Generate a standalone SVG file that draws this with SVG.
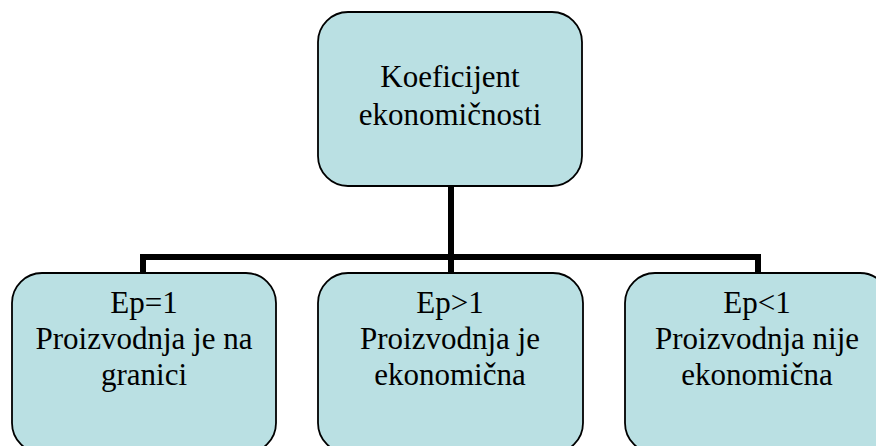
<svg xmlns="http://www.w3.org/2000/svg" width="876" height="446" viewBox="0 0 876 446">
<style>
.box{fill:#BAE0E3;stroke:#000;stroke-width:1.8}
.t{font-family:'Liberation Serif','Times New Roman',serif;font-size:31px;fill:#000;text-anchor:middle}
.c{stroke:#000;stroke-width:6;fill:none}
</style>
<rect width="876" height="446" fill="#fff"/>
<g id="connectors">
<line class="c" x1="451" y1="185" x2="451" y2="274"/>
<polyline class="c" points="143,274 143,257 758,257 758,274"/>
</g>
<g id="root">
<rect class="box" x="318" y="12" width="264" height="174" rx="30" ry="30"/>
<text class="t" x="450" y="87">Koeficijent</text>
<text class="t" x="450" y="125">ekonomičnosti</text>
</g>
<g id="n1">
<rect class="box" x="12" y="273" width="264" height="180" rx="30" ry="30"/>
<text class="t" x="144" y="313">Ep=1</text>
<text class="t" x="144" y="349">Proizvodnja je na</text>
<text class="t" x="144" y="385">granici</text>
</g>
<g id="n2">
<rect class="box" x="318" y="273" width="265" height="180" rx="30" ry="30"/>
<text class="t" x="450" y="313">Ep&gt;1</text>
<text class="t" x="450" y="349">Proizvodnja je</text>
<text class="t" x="450" y="385">ekonomična</text>
</g>
<g id="n3">
<rect class="box" x="625" y="273" width="265" height="180" rx="30" ry="30"/>
<text class="t" x="757" y="313">Ep&lt;1</text>
<text class="t" x="757" y="349">Proizvodnja nije</text>
<text class="t" x="757" y="385">ekonomična</text>
</g>
</svg>
